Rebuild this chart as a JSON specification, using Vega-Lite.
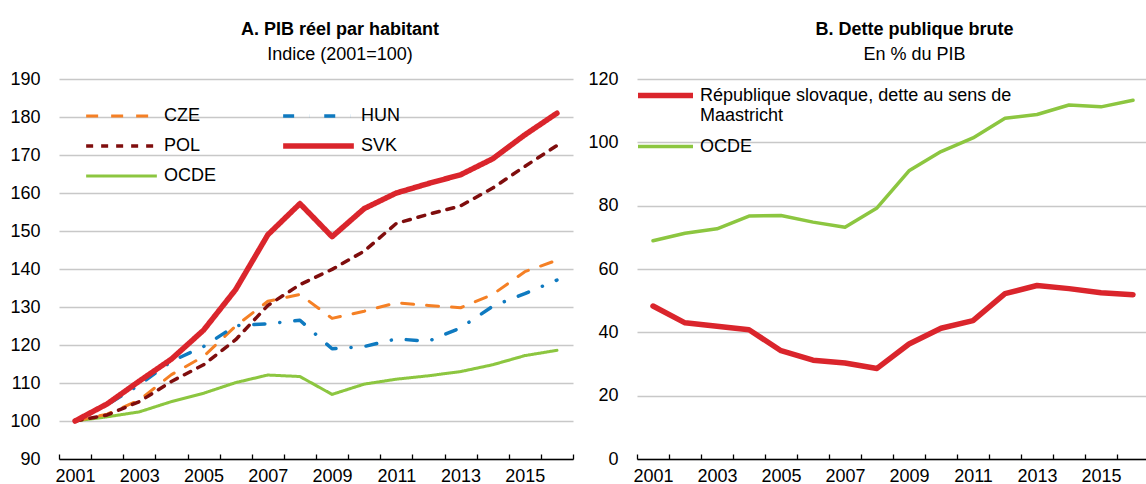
{
  "$schema": "https://vega.github.io/schema/vega-lite/v6.json",
  "padding": {"left": 9, "right": 0, "top": 21, "bottom": 0},
  "background": "white",
  "config": {
    "font": "Liberation Sans, Arial, sans-serif",
    "view": {"stroke": null},
    "title": {"fontSize": 18, "fontWeight": "bold", "color": "black", "subtitleFontSize": 18, "subtitleColor": "black", "subtitlePadding": 7, "offset": 6, "anchor": "middle", "dx": 24},
    "axis": {"labelFontSize": 18, "labelColor": "black", "title": null},
    "legend": {"labelFontSize": 18, "labelColor": "black", "labelLimit": 600, "padding": 0, "offset": 0, "title": null}
  },
  "spacing": 13,
  "resolve": {"scale": {"color": "independent", "strokeDash": "independent", "strokeWidth": "independent"}, "legend": {"color": "independent", "strokeDash": "independent", "strokeWidth": "independent"}},
  "hconcat": [
    {
      "width": 514,
      "height": 380,
      "title": {"text": "A. PIB réel par habitant", "subtitle": "Indice (2001=100)"},
      "data": {"values": [
        {"annee": 2001, "pays": "OCDE", "valeur": 100}, {"annee": 2002, "pays": "OCDE", "valeur": 101.1}, {"annee": 2003, "pays": "OCDE", "valeur": 102.4}, {"annee": 2004, "pays": "OCDE", "valeur": 105.1}, {"annee": 2005, "pays": "OCDE", "valeur": 107.3}, {"annee": 2006, "pays": "OCDE", "valeur": 110.1}, {"annee": 2007, "pays": "OCDE", "valeur": 112.1}, {"annee": 2008, "pays": "OCDE", "valeur": 111.7}, {"annee": 2009, "pays": "OCDE", "valeur": 107.0}, {"annee": 2010, "pays": "OCDE", "valeur": 109.7}, {"annee": 2011, "pays": "OCDE", "valeur": 111.0}, {"annee": 2012, "pays": "OCDE", "valeur": 111.9}, {"annee": 2013, "pays": "OCDE", "valeur": 113.0}, {"annee": 2014, "pays": "OCDE", "valeur": 114.8}, {"annee": 2015, "pays": "OCDE", "valeur": 117.2}, {"annee": 2016, "pays": "OCDE", "valeur": 118.6},
        {"annee": 2001, "pays": "CZE", "valeur": 100}, {"annee": 2002, "pays": "CZE", "valeur": 101.8}, {"annee": 2003, "pays": "CZE", "valeur": 105.5}, {"annee": 2004, "pays": "CZE", "valeur": 112.2}, {"annee": 2005, "pays": "CZE", "valeur": 117.0}, {"annee": 2006, "pays": "CZE", "valeur": 125.0}, {"annee": 2007, "pays": "CZE", "valeur": 131.5}, {"annee": 2008, "pays": "CZE", "valeur": 133.3}, {"annee": 2009, "pays": "CZE", "valeur": 127.0}, {"annee": 2010, "pays": "CZE", "valeur": 128.9}, {"annee": 2011, "pays": "CZE", "valeur": 131.1}, {"annee": 2012, "pays": "CZE", "valeur": 130.4}, {"annee": 2013, "pays": "CZE", "valeur": 129.8}, {"annee": 2014, "pays": "CZE", "valeur": 133.3}, {"annee": 2015, "pays": "CZE", "valeur": 139.3}, {"annee": 2016, "pays": "CZE", "valeur": 142.3},
        {"annee": 2001, "pays": "HUN", "valeur": 100}, {"annee": 2002, "pays": "HUN", "valeur": 104.3}, {"annee": 2003, "pays": "HUN", "valeur": 109.5}, {"annee": 2004, "pays": "HUN", "valeur": 115.7}, {"annee": 2005, "pays": "HUN", "valeur": 119.6}, {"annee": 2006, "pays": "HUN", "valeur": 125.1}, {"annee": 2007, "pays": "HUN", "valeur": 125.6}, {"annee": 2008, "pays": "HUN", "valeur": 126.5}, {"annee": 2009, "pays": "HUN", "valeur": 119.0}, {"annee": 2010, "pays": "HUN", "valeur": 119.6}, {"annee": 2011, "pays": "HUN", "valeur": 121.6}, {"annee": 2012, "pays": "HUN", "valeur": 121.0}, {"annee": 2013, "pays": "HUN", "valeur": 124.5}, {"annee": 2014, "pays": "HUN", "valeur": 130.2}, {"annee": 2015, "pays": "HUN", "valeur": 133.5}, {"annee": 2016, "pays": "HUN", "valeur": 137.1},
        {"annee": 2001, "pays": "POL", "valeur": 100}, {"annee": 2002, "pays": "POL", "valeur": 101.6}, {"annee": 2003, "pays": "POL", "valeur": 105.1}, {"annee": 2004, "pays": "POL", "valeur": 110.4}, {"annee": 2005, "pays": "POL", "valeur": 114.8}, {"annee": 2006, "pays": "POL", "valeur": 121.4}, {"annee": 2007, "pays": "POL", "valeur": 130.4}, {"annee": 2008, "pays": "POL", "valeur": 135.9}, {"annee": 2009, "pays": "POL", "valeur": 139.9}, {"annee": 2010, "pays": "POL", "valeur": 144.7}, {"annee": 2011, "pays": "POL", "valeur": 152.0}, {"annee": 2012, "pays": "POL", "valeur": 154.4}, {"annee": 2013, "pays": "POL", "valeur": 156.6}, {"annee": 2014, "pays": "POL", "valeur": 161.3}, {"annee": 2015, "pays": "POL", "valeur": 167.0}, {"annee": 2016, "pays": "POL", "valeur": 172.5},
        {"annee": 2001, "pays": "SVK", "valeur": 100}, {"annee": 2002, "pays": "SVK", "valeur": 104.5}, {"annee": 2003, "pays": "SVK", "valeur": 110.5}, {"annee": 2004, "pays": "SVK", "valeur": 116.3}, {"annee": 2005, "pays": "SVK", "valeur": 123.9}, {"annee": 2006, "pays": "SVK", "valeur": 134.6}, {"annee": 2007, "pays": "SVK", "valeur": 149.0}, {"annee": 2008, "pays": "SVK", "valeur": 157.2}, {"annee": 2009, "pays": "SVK", "valeur": 148.5}, {"annee": 2010, "pays": "SVK", "valeur": 155.9}, {"annee": 2011, "pays": "SVK", "valeur": 160.0}, {"annee": 2012, "pays": "SVK", "valeur": 162.5}, {"annee": 2013, "pays": "SVK", "valeur": 164.8}, {"annee": 2014, "pays": "SVK", "valeur": 169.0}, {"annee": 2015, "pays": "SVK", "valeur": 175.3}, {"annee": 2016, "pays": "SVK", "valeur": 181.0}
      ]},
      "mark": {"type": "line", "strokeCap": "round", "strokeJoin": "round"},
      "encoding": {
        "x": {"field": "annee", "type": "ordinal", "bandPosition": 0.5, "scale": {"type": "band", "paddingInner": 0, "paddingOuter": 0},
              "axis": {"labelAngle": 0, "labelExpr": "datum.value % 2 == 1 ? datum.label : ''", "tickBand": "extent", "tickSize": -5, "tickColor": "black", "tickWidth": 1.3, "domainColor": "black", "domainWidth": 1.5, "labelPadding": 13, "grid": false}},
        "y": {"field": "valeur", "type": "quantitative", "scale": {"domain": [90, 190], "nice": false, "zero": false},
              "axis": {"values": [90, 100, 110, 120, 130, 140, 150, 160, 170, 180, 190], "grid": true, "gridColor": "#c8c8c8", "gridWidth": 1.5, "domain": false, "ticks": false, "labelPadding": 19}},
        "color": {"field": "pays", "type": "nominal", "scale": {"domain": ["CZE", "POL", "OCDE", "HUN", "SVK"], "range": ["#f58025", "#7f0d0d", "#8cc640", "#0f7ac0", "#da252c"]},
                  "legend": {"orient": "none", "legendX": 24, "legendY": 25, "columns": 2, "symbolType": "stroke", "symbolSize": 5000, "clipHeight": 24, "rowPadding": 6, "columnPadding": 63, "labelOffset": 4}},
        "strokeDash": {"field": "pays", "type": "nominal", "scale": {"domain": ["CZE", "POL", "OCDE", "HUN", "SVK"], "range": [[12, 13], [7, 8], [1, 0], [11, 15, 0.1, 15], [1, 0]]}},
        "strokeWidth": {"field": "pays", "type": "nominal", "scale": {"type": "ordinal", "domain": ["CZE", "POL", "OCDE", "HUN", "SVK"], "range": [3, 3.5, 3, 3.5, 5.5]}}
      }
    },
    {
      "width": 507,
      "height": 380,
      "title": {"text": "B. Dette publique brute", "subtitle": "En % du PIB"},
      "data": {"values": [
        {"annee": 2001, "serie": "OCDE", "valeur": 68.9}, {"annee": 2002, "serie": "OCDE", "valeur": 71.3}, {"annee": 2003, "serie": "OCDE", "valeur": 72.7}, {"annee": 2004, "serie": "OCDE", "valeur": 76.7}, {"annee": 2005, "serie": "OCDE", "valeur": 76.9}, {"annee": 2006, "serie": "OCDE", "valeur": 74.8}, {"annee": 2007, "serie": "OCDE", "valeur": 73.2}, {"annee": 2008, "serie": "OCDE", "valeur": 79.3}, {"annee": 2009, "serie": "OCDE", "valeur": 91.0}, {"annee": 2010, "serie": "OCDE", "valeur": 97.1}, {"annee": 2011, "serie": "OCDE", "valeur": 101.4}, {"annee": 2012, "serie": "OCDE", "valeur": 107.6}, {"annee": 2013, "serie": "OCDE", "valeur": 108.8}, {"annee": 2014, "serie": "OCDE", "valeur": 111.8}, {"annee": 2015, "serie": "OCDE", "valeur": 111.2}, {"annee": 2016, "serie": "OCDE", "valeur": 113.3},
        {"annee": 2001, "serie": "République slovaque, dette au sens de Maastricht", "valeur": 48.3}, {"annee": 2002, "serie": "République slovaque, dette au sens de Maastricht", "valeur": 43.0}, {"annee": 2003, "serie": "République slovaque, dette au sens de Maastricht", "valeur": 41.9}, {"annee": 2004, "serie": "République slovaque, dette au sens de Maastricht", "valeur": 40.8}, {"annee": 2005, "serie": "République slovaque, dette au sens de Maastricht", "valeur": 34.2}, {"annee": 2006, "serie": "République slovaque, dette au sens de Maastricht", "valeur": 31.2}, {"annee": 2007, "serie": "République slovaque, dette au sens de Maastricht", "valeur": 30.3}, {"annee": 2008, "serie": "République slovaque, dette au sens de Maastricht", "valeur": 28.6}, {"annee": 2009, "serie": "République slovaque, dette au sens de Maastricht", "valeur": 36.3}, {"annee": 2010, "serie": "République slovaque, dette au sens de Maastricht", "valeur": 41.3}, {"annee": 2011, "serie": "République slovaque, dette au sens de Maastricht", "valeur": 43.7}, {"annee": 2012, "serie": "République slovaque, dette au sens de Maastricht", "valeur": 52.2}, {"annee": 2013, "serie": "République slovaque, dette au sens de Maastricht", "valeur": 54.8}, {"annee": 2014, "serie": "République slovaque, dette au sens de Maastricht", "valeur": 53.8}, {"annee": 2015, "serie": "République slovaque, dette au sens de Maastricht", "valeur": 52.5}, {"annee": 2016, "serie": "République slovaque, dette au sens de Maastricht", "valeur": 51.9}
      ]},
      "mark": {"type": "line", "strokeCap": "round", "strokeJoin": "round"},
      "encoding": {
        "x": {"field": "annee", "type": "ordinal", "bandPosition": 0.5, "scale": {"type": "band", "paddingInner": 0, "paddingOuter": 0, "range": [0, 512]},
              "axis": {"labelAngle": 0, "labelExpr": "datum.value % 2 == 1 ? datum.label : ''", "tickBand": "extent", "tickSize": -5, "tickColor": "black", "tickWidth": 1.3, "domainColor": "black", "domainWidth": 1.5, "labelPadding": 13, "grid": false}},
        "y": {"field": "valeur", "type": "quantitative", "scale": {"domain": [0, 120], "nice": false},
              "axis": {"values": [0, 20, 40, 60, 80, 100, 120], "grid": true, "gridColor": "#c8c8c8", "gridWidth": 1.5, "domain": false, "ticks": false, "labelPadding": 19}},
        "color": {"field": "serie", "type": "nominal", "scale": {"domain": ["République slovaque, dette au sens de Maastricht", "OCDE"], "range": ["#da252c", "#8cc640"]},
                  "legend": {"orient": "none", "legendX": -2, "legendY": 4, "symbolType": "stroke", "symbolSize": 3025, "clipHeight": 25, "rowPadding": 9, "labelOffset": 4,
                             "labelExpr": "datum.label == 'OCDE' ? datum.label : ['République slovaque, dette au sens de', 'Maastricht']"}},
        "strokeWidth": {"field": "serie", "type": "nominal", "scale": {"type": "ordinal", "domain": ["République slovaque, dette au sens de Maastricht", "OCDE"], "range": [5.5, 3.5]}}
      }
    }
  ]
}
